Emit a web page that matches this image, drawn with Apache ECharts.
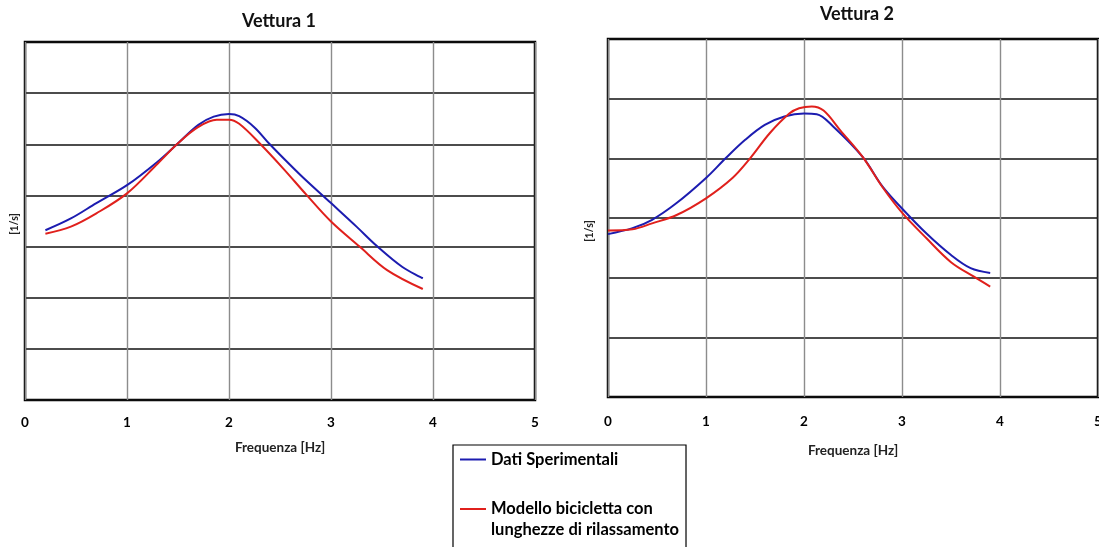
<!DOCTYPE html>
<html>
<head>
<meta charset="utf-8">
<script src="https://cdn.jsdelivr.net/npm/echarts@6/dist/echarts.min.js"></script>
<style>
  html, body { margin: 0; padding: 0; background: #ffffff; }
  #chart { width: 1099px; height: 547px; }
</style>
</head>
<body>
<div id="chart"></div>
<script>
// Titles, axis names and series names
const chartTitles = ['Vettura 1', 'Vettura 2'];
const xAxisName = 'Frequenza [Hz]';
const yAxisName = '[1/s]';
const seriesNames = ['Dati Sperimentali', 'Modello bicicletta con lunghezze di rilassamento'];
const xTicks = [0, 1, 2, 3, 4, 5];

// Vettura 1 – experimental data
const freqDati1 = [0.2, 0.45, 0.7, 1.0, 1.3, 1.5, 1.7, 1.85, 2.0, 2.1, 2.25, 2.4, 2.7, 3.0, 3.25, 3.45, 3.7, 3.9];
const valDati1  = [3.32, 3.55, 3.85, 4.20, 4.66, 5.02, 5.38, 5.54, 5.59, 5.55, 5.33, 5.00, 4.40, 3.85, 3.39, 3.01, 2.60, 2.38];

// Vettura 1 – bicycle model
const freqModello1 = [0.2, 0.45, 0.7, 1.0, 1.3, 1.5, 1.7, 1.88, 2.0, 2.1, 2.3, 2.53, 2.76, 3.0, 3.28, 3.55, 3.9];
const valModello1  = [3.25, 3.39, 3.65, 4.04, 4.62, 5.02, 5.34, 5.48, 5.48, 5.40, 5.02, 4.53, 4.01, 3.49, 3.00, 2.54, 2.17];

// Vettura 2 – experimental data
const freqDati2 = [0, 0.25, 0.45, 0.7, 1.0, 1.2, 1.4, 1.6, 1.8, 2.0, 2.13, 2.3, 2.6, 2.8, 3.0, 3.25, 3.5, 3.7, 3.9];
const valDati2  = [2.73, 2.83, 2.97, 3.25, 3.67, 4.00, 4.31, 4.56, 4.70, 4.75, 4.74, 4.53, 4.02, 3.53, 3.16, 2.74, 2.38, 2.16, 2.08];

// Vettura 2 – bicycle model
const freqModello2 = [0, 0.25, 0.45, 0.7, 1.0, 1.27, 1.45, 1.65, 1.85, 1.95, 2.08, 2.2, 2.37, 2.6, 2.8, 3.0, 3.25, 3.5, 3.73, 3.9];
const valModello2  = [2.79, 2.81, 2.91, 3.05, 3.33, 3.67, 4.00, 4.42, 4.75, 4.84, 4.87, 4.80, 4.47, 4.02, 3.52, 3.09, 2.66, 2.26, 2.02, 1.85];

const yMax = [7, 6];

const pairs = (xs, ys) => xs.map((x, i) => [x, ys[i]]);

const FONT = 'Lato, "Open Sans", sans-serif';
const BLUE = '#1c1cb0';
const RED = '#e0201c';
// thin horizontal bar used as the legend key
const LEGEND_KEY = 'path://M0,0H26V2H0Z';

const gridBase = {
  show: true,
  backgroundColor: '#ffffff',
  borderColor: '#000000',
  borderWidth: 2.5,
  containLabel: false,
  outerBoundsMode: 'none'
};

function xAxisFor(gridIndex, labelMargin, nameGap) {
  return {
    type: 'value',
    gridIndex: gridIndex,
    min: xTicks[0],
    max: xTicks[xTicks.length - 1],
    interval: 1,
    axisLine: { show: false },
    axisTick: { show: false },
    axisLabel: {
      show: true, margin: labelMargin, color: '#000',
      fontFamily: FONT, fontWeight: 'bold', fontSize: 13.5,
      showMinLabel: true, showMaxLabel: true
    },
    splitLine: { show: true, lineStyle: { color: '#8c8c8c', width: 1.4 } },
    name: xAxisName,
    nameLocation: 'middle',
    nameGap: nameGap,
    nameTextStyle: { color: '#222', fontFamily: FONT, fontWeight: 'bold', fontSize: 13.5 }
  };
}

function yAxisFor(gridIndex, max, nameGap, namePadding) {
  return {
    type: 'value',
    gridIndex: gridIndex,
    min: 0,
    max: max,
    interval: 1,
    axisLine: { show: false },
    axisTick: { show: false },
    axisLabel: { show: false },
    splitLine: { show: true, lineStyle: { color: '#111111', width: 1.5 } },
    name: yAxisName,
    nameLocation: 'middle',
    nameGap: nameGap,
    nameTextStyle: { color: '#222', fontFamily: FONT, fontWeight: 'bold', fontSize: 10.5, padding: namePadding }
  };
}

function lineSeries(name, color, xi, data) {
  return {
    type: 'line',
    name: name,
    xAxisIndex: xi,
    yAxisIndex: xi,
    data: data,
    smooth: 0.35,
    symbol: 'none',
    lineStyle: { color: color, width: 2 },
    itemStyle: { color: color },
    emphasis: { disabled: true }
  };
}

const chart = echarts.init(document.getElementById('chart'), null, { renderer: 'canvas' });

chart.setOption({
  animation: false,
  backgroundColor: '#ffffff',
  title: [
    { text: chartTitles[0], left: 279, top: 12, textAlign: 'center', padding: 0,
      textStyle: { fontFamily: FONT, fontWeight: 'bold', fontSize: 18, color: '#111' } },
    { text: chartTitles[1], left: 857, top: 5, textAlign: 'center', padding: 0,
      textStyle: { fontFamily: FONT, fontWeight: 'bold', fontSize: 18, color: '#111' } }
  ],
  grid: [
    Object.assign({ left: 25, top: 42, width: 510, height: 358 }, gridBase),
    Object.assign({ left: 608, top: 39, width: 490, height: 358 }, gridBase)
  ],
  xAxis: [xAxisFor(0, 16, 41), xAxisFor(1, 18, 47)],
  yAxis: [yAxisFor(0, yMax[0], 5, [0, 6, 0, 0]), yAxisFor(1, yMax[1], 13, [0, 26, 0, 0])],
  legend: {
    orient: 'vertical',
    left: 453,
    top: 445,
    height: 160,
    padding: [4, 7, 30, 7],
    itemGap: 7.5,
    itemWidth: 26,
    itemHeight: 14,
    icon: LEGEND_KEY,
    selectedMode: false,
    borderColor: '#000',
    borderWidth: 1.2,
    backgroundColor: '#fff',
    textStyle: { fontFamily: FONT, fontWeight: 'bold', fontSize: 16.5, color: '#000', lineHeight: 21 },
    // the key sits on the first line of the two-line entry
    formatter: function (n) {
      return n === seriesNames[1] ? '\nModello bicicletta con\nlunghezze di rilassamento' : n;
    },
    data: [seriesNames[0], seriesNames[1]]
  },
  series: [
    lineSeries(seriesNames[0], BLUE, 0, pairs(freqDati1, valDati1)),
    lineSeries(seriesNames[1], RED, 0, pairs(freqModello1, valModello1)),
    lineSeries(seriesNames[0], BLUE, 1, pairs(freqDati2, valDati2)),
    lineSeries(seriesNames[1], RED, 1, pairs(freqModello2, valModello2))
  ]
});
</script>
</body>
</html>
